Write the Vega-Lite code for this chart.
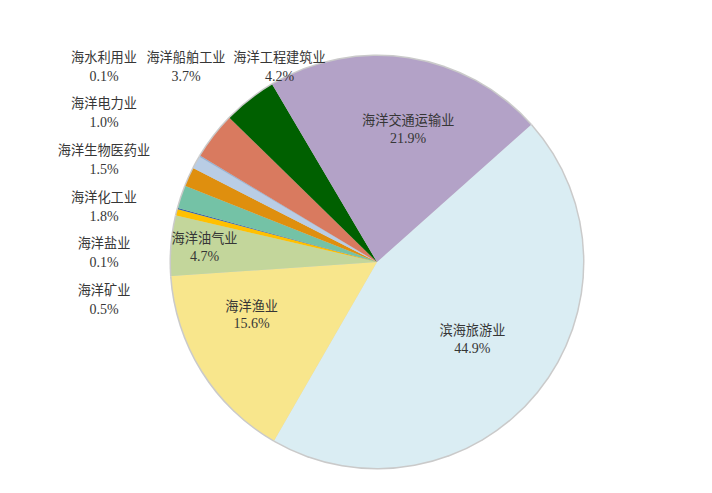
{
  "$schema": "https://vega.github.io/schema/vega-lite/v6.json",
  "autosize": {"type": "none"},
  "width": 670,
  "height": 462,
  "padding": {"left": 42, "top": 31, "right": 0, "bottom": 0},
  "background": "white",
  "config": {"view": {"stroke": null}, "text": {"font": "Liberation Serif, Noto Sans CJK SC", "fontSize": 13.2, "color": "#363636", "baseline": "middle", "align": "center"}},
  "data": {"values": [
    {"industry": "滨海旅游业", "share": 0.449, "order": 1},
    {"industry": "海洋渔业", "share": 0.156, "order": 2},
    {"industry": "海洋油气业", "share": 0.047, "order": 3},
    {"industry": "海洋矿业", "share": 0.005, "order": 4},
    {"industry": "海洋盐业", "share": 0.001, "order": 5},
    {"industry": "海洋化工业", "share": 0.018, "order": 6},
    {"industry": "海洋生物医药业", "share": 0.015, "order": 7},
    {"industry": "海洋电力业", "share": 0.010, "order": 8},
    {"industry": "海水利用业", "share": 0.001, "order": 9},
    {"industry": "海洋船舶工业", "share": 0.037, "order": 10},
    {"industry": "海洋工程建筑业", "share": 0.042, "order": 11},
    {"industry": "海洋交通运输业", "share": 0.219, "order": 12}
  ]},
  "resolve": {"scale": {"x": "independent", "y": "independent"}},
  "layer": [
    {
      "encoding": {
        "theta": {"field": "share", "type": "quantitative", "stack": true, "scale": {"domain": [0, 1], "range": [0.843, 7.126]}},
        "order": {"field": "order", "type": "quantitative"}
      },
      "layer": [
        {"mark": {"type": "arc", "outerRadius": 207.5, "color": "#cacaca"}},
        {
          "mark": {"type": "arc", "outerRadius": 206},
          "encoding": {
            "color": {"field": "industry", "type": "nominal", "legend": null,
              "scale": {
                "domain": ["滨海旅游业", "海洋渔业", "海洋油气业", "海洋矿业", "海洋盐业", "海洋化工业", "海洋生物医药业", "海洋电力业", "海水利用业", "海洋船舶工业", "海洋工程建筑业", "海洋交通运输业"],
                "range": ["#DAEDF3", "#F8E68C", "#C3D69B", "#FFC000", "#3B64A0", "#74C2A6", "#DF8F0E", "#B9CDE5", "#95B3D7", "#D97A5F", "#006000", "#B3A2C7"]
              }
            }
          }
        },
        {"mark": {"type": "text", "radius": 131, "dx": 11, "dy": -12}, "encoding": {"text": {"condition": {"test": "datum.industry === '海洋交通运输业'", "field": "industry"}, "value": ""}}},
        {"mark": {"type": "text", "radius": 131, "dx": 11, "dy": 6, "fontSize": 14}, "encoding": {"text": {"condition": {"test": "datum.industry === '海洋交通运输业'", "field": "share", "type": "quantitative", "format": ".1%"}, "value": ""}}},
        {"mark": {"type": "text", "radius": 123, "dy": -9}, "encoding": {"text": {"condition": {"test": "datum.industry === '滨海旅游业'", "field": "industry"}, "value": ""}}},
        {"mark": {"type": "text", "radius": 123, "dy": 9, "fontSize": 14}, "encoding": {"text": {"condition": {"test": "datum.industry === '滨海旅游业'", "field": "share", "type": "quantitative", "format": ".1%"}, "value": ""}}},
        {"mark": {"type": "text", "radius": 136, "dx": -10, "dy": -27}, "encoding": {"text": {"condition": {"test": "datum.industry === '海洋渔业'", "field": "industry"}, "value": ""}}},
        {"mark": {"type": "text", "radius": 136, "dx": -10, "dy": -10, "fontSize": 14}, "encoding": {"text": {"condition": {"test": "datum.industry === '海洋渔业'", "field": "share", "type": "quantitative", "format": ".1%"}, "value": ""}}},
        {"mark": {"type": "text", "radius": 173, "dy": -9}, "encoding": {"text": {"condition": {"test": "datum.industry === '海洋油气业'", "field": "industry"}, "value": ""}}},
        {"mark": {"type": "text", "radius": 173, "dy": 9, "fontSize": 14}, "encoding": {"text": {"condition": {"test": "datum.industry === '海洋油气业'", "field": "share", "type": "quantitative", "format": ".1%"}, "value": ""}}}
      ]
    },
    {
      "transform": [{"filter": {"field": "industry", "oneOf": ["海水利用业", "海洋电力业", "海洋生物医药业", "海洋化工业", "海洋盐业", "海洋矿业"]}}],
      "encoding": {
        "x": {"field": "industry", "type": "nominal", "axis": null, "scale": {"type": "point", "domain": ["海水利用业", "海洋电力业", "海洋生物医药业", "海洋化工业", "海洋盐业", "海洋矿业"], "range": [62, 62], "padding": 0}},
        "y": {"field": "industry", "type": "nominal", "axis": null, "scale": {"type": "point", "domain": ["海水利用业", "海洋电力业", "海洋生物医药业", "海洋化工业", "海洋盐业", "海洋矿业"], "range": [36, 269.5], "padding": 0}}
      },
      "layer": [
        {"mark": {"type": "text", "dy": -9.5}, "encoding": {"text": {"field": "industry"}}},
        {"mark": {"type": "text", "dy": 9.5, "fontSize": 14}, "encoding": {"text": {"field": "share", "type": "quantitative", "format": ".1%"}}}
      ]
    },
    {
      "transform": [{"filter": {"field": "industry", "oneOf": ["海洋船舶工业", "海洋工程建筑业"]}}],
      "encoding": {
        "x": {"field": "industry", "type": "nominal", "axis": null, "scale": {"type": "point", "domain": ["海洋船舶工业", "海洋工程建筑业"], "range": [144, 237.5], "padding": 0}},
        "y": {"field": "industry", "type": "nominal", "axis": null, "scale": {"type": "point", "domain": ["海洋船舶工业", "海洋工程建筑业"], "range": [36, 36], "padding": 0}}
      },
      "layer": [
        {"mark": {"type": "text", "dy": -9.5}, "encoding": {"text": {"field": "industry"}}},
        {"mark": {"type": "text", "dy": 9.5, "fontSize": 14}, "encoding": {"text": {"field": "share", "type": "quantitative", "format": ".1%"}}}
      ]
    }
  ]
}
